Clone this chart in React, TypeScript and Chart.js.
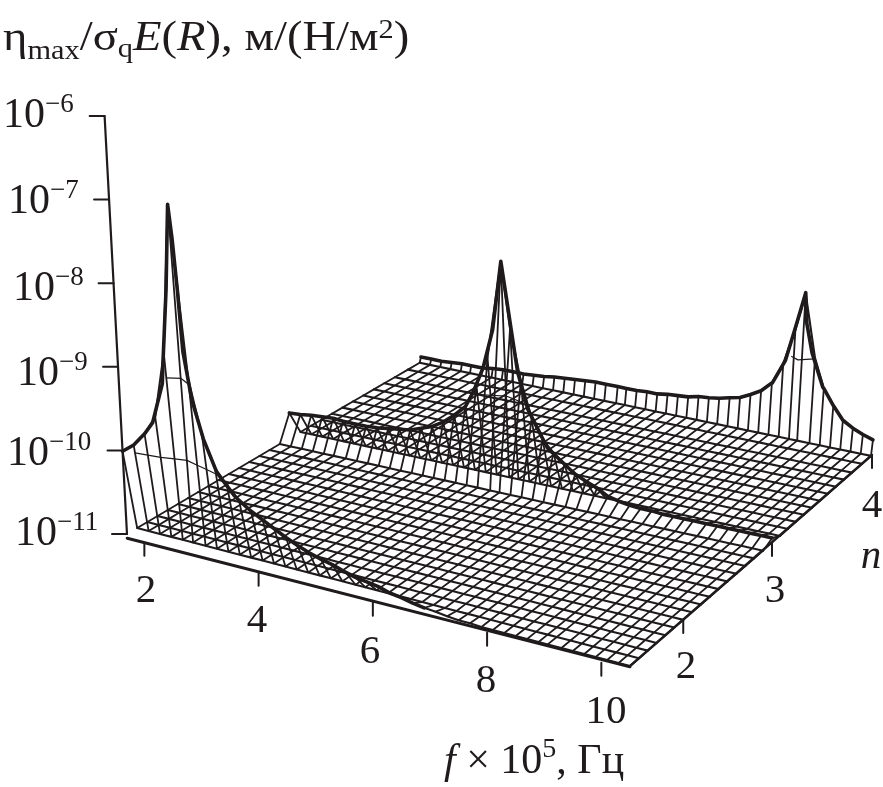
import React, { useEffect, useRef } from "react";
import { Chart, registerables } from "chart.js";

Chart.register(...registerables);

// f × 10^5 Hz grid of the wireframe
const fValues = [
  1.7, 1.9, 2.1, 2.3, 2.5, 2.68, 2.9, 3.1, 3.3, 3.5, 3.7, 3.9, 4.1, 4.3, 4.5, 4.7, 4.9, 5.1, 5.3, 5.53, 5.7, 5.9, 6.1,
  6.3, 6.5, 6.7, 6.9, 7.1, 7.3, 7.5, 7.7, 7.9, 8.1, 8.3, 8.5, 8.7, 8.9, 9.06, 9.3, 9.5, 9.7, 9.9, 10.1, 10.3, 10.5,
];
// n grid
const nValues = [
  1.4, 1.5, 1.6, 1.7, 1.8, 1.9, 2.0, 2.1, 2.2, 2.3, 2.4, 2.5, 2.6, 2.7, 2.8, 2.9, 3.0, 3.08, 3.16, 3.24, 3.32, 3.4,
  3.48, 3.56, 3.64, 3.72, 3.8, 3.9, 3.99, 4.0,
];
const floorLog = -11;
// log10(eta) along each ridge row
const frontRidgeN = 1.4;
const frontRidgeLog = [
  -10.01, -9.9, -9.73, -9.49, -8.69, -6.88, -8.93, -9.58, -9.92, -10.1, -10.24, -10.33, -10.4, -10.47, -10.54, -10.6,
  -10.65, -10.69, -10.72, -10.77, -10.8, -10.82, -10.84, -10.88, -10.9, -10.93, -10.95, -10.96, -10.98, -10.99, -10.99,
  -11, -11, -11, -11, -11, -11, -11, -11, -11, -11, -11, -11, -11, -11,
];
const midRidgeN = 3.0;
const midRidgeLog = [
  -10.7, -10.69, -10.67, -10.66, -10.65, -10.66, -10.66, -10.66, -10.65, -10.63, -10.61, -10.59, -10.54, -10.49, -10.41,
  -10.3, -10.17, -9.87, -9.52, -8.34, -9.12, -9.72, -10.13, -10.36, -10.49, -10.6, -10.69, -10.75, -10.8, -10.87, -10.9,
  -10.92, -10.93, -10.93, -10.94, -10.94, -10.94, -10.94, -10.94, -10.94, -10.94, -10.94, -10.94, -10.94, -10.94,
];
const backRidgeN = 4.0;
const backRidgeLog = [
  -10.94, -10.94, -10.94, -10.93, -10.92, -10.92, -10.92, -10.9, -10.89, -10.89, -10.89, -10.88, -10.87, -10.85, -10.84,
  -10.83, -10.82, -10.81, -10.81, -10.81, -10.81, -10.81, -10.8, -10.8, -10.78, -10.77, -10.76, -10.73, -10.72, -10.7,
  -10.67, -10.64, -10.58, -10.51, -10.39, -10.13, -9.7, -9.25, -9.99, -10.33, -10.51, -10.66, -10.73, -10.78, -10.82,
];
// finer readings of the outlines around each peak
const frontPeakF = [2.25, 2.45, 2.48, 2.59, 2.68, 2.73, 2.78, 2.83, 2.95, 3.12, 3.33, 3.61];
const frontPeakLog = [-9.57, -9.07, -8.8, -7.91, -6.88, -7.29, -7.88, -8.62, -9.18, -9.61, -9.97, -10.19];
const midPeakF = [5.04, 5.22, 5.39, 5.53, 5.72, 5.84, 6.03, 6.39, 6.81];
const midPeakLog = [-9.98, -9.66, -9.18, -8.34, -9.13, -9.62, -10.04, -10.45, -10.65];
const backPeakF = [8.51, 8.74, 8.92, 9.06, 9.11, 9.24, 9.48];
const backPeakLog = [-10.39, -10.09, -9.62, -9.24, -9.6, -9.94, -10.32];

const frontOutlineEnd = 6.9;
const contourLevels = [-10, -9, -8];
const frontEdgeLog = [-11.05, -11.01];

const zTicks = [-6, -7, -8, -9, -10, -11];
const fTicks = [2, 4, 6, 8, 10];
const nTicks = [2, 3, 4];

const INK = "#1f1b1c";
const SERIF = '"Liberation Serif"';

// Projection of (f, n, log eta) into the picture plane
const ctrlN = [1.4, 3, 4];
const ctrlL = [[127, 534], [290, 438], [421, 362]];
const ctrlR = [[630, 666], [772, 543], [872, 455]];
const Z_PX = 83.6;
const fLo = fValues[0];
const fHi = fValues[fValues.length - 1];

function base(f: number, n: number) {
  const u = (f - fLo) / (fHi - fLo);
  const s = n <= ctrlN[1] ? 0 : 1;
  const v = (n - ctrlN[s]) / (ctrlN[s + 1] - ctrlN[s]);
  const at = (p: number[][], k: number) => p[s][k] + (p[s + 1][k] - p[s][k]) * v;
  const x = at(ctrlL, 0) + (at(ctrlR, 0) - at(ctrlL, 0)) * u;
  const y = at(ctrlL, 1) + (at(ctrlR, 1) - at(ctrlL, 1)) * u;
  return { x, y };
}
function project(f: number, n: number, log: number) {
  const b = base(f, n);
  const h = (log - floorLog) * Z_PX;
  return { x: b.x + ((b.x - 470) / 6400) * h, y: b.y - h };
}

function surface(fi: number, n: number) {
  if (Math.abs(n - frontRidgeN) < 1e-6) return frontRidgeLog[fi];
  if (Math.abs(n - midRidgeN) < 1e-6) return midRidgeLog[fi];
  if (Math.abs(n - backRidgeN) < 1e-6) return backRidgeLog[fi];
  return floorLog;
}

function line(data: { x: number; y: number }[], width: number) {
  return {
    data,
    showLine: true,
    pointRadius: 0,
    borderColor: INK,
    borderWidth: width,
    borderCapStyle: "round",
    borderJoinStyle: "round",
    tension: 0,
    fill: false,
  };
}

function contour(ridge: number[], n: number, dn: number, level: number) {
  const pts: { x: number; y: number }[] = [];
  ridge.forEach((log, i) => {
    if (log > level) {
      const t = (log - level) / (log - floorLog);
      pts.push(project(fValues[i], n + dn * t, level));
    }
  });
  return pts;
}

// Merge the grid readings of a ridge with its finer peak readings
function outline(n: number, ridge: number[], peakF: number[], peakLog: number[], endF = Infinity) {
  const lo = peakF[0];
  const hi = peakF[peakF.length - 1];
  const pts: [number, number][] = [];
  fValues.forEach((f, i) => {
    if ((f < lo || f > hi) && f <= endF) pts.push([f, ridge[i]]);
  });
  peakF.forEach((f, i) => pts.push([f, peakLog[i]]));
  pts.sort((a, b) => a[0] - b[0]);
  return pts.map(([f, l]) => project(f, n, l));
}

function buildDatasets() {
  const sets: any[] = [];
  // rows of constant n
  nValues.forEach((n) => {
    sets.push(line(fValues.map((f, i) => project(f, n, surface(i, n))), 2.1));
  });
  // rows of constant f
  fValues.forEach((f, i) => {
    sets.push(line(nValues.map((n) => project(f, n, surface(i, n))), 1.8));
  });
  // contours on the peaks
  contourLevels.forEach((lvl) => {
    const a = contour(frontRidgeLog, frontRidgeN, 0.1, lvl);
    if (a.length) sets.push(line(a, 1.2));
    const b = contour(midRidgeLog, midRidgeN, 0.08, lvl);
    if (b.length) sets.push(line(b, 1.2));
    const c = contour(backRidgeLog, backRidgeN, -0.1, lvl);
    if (c.length) sets.push(line(c, 1.2));
  });
  // ridges
  sets.push(line(outline(frontRidgeN, frontRidgeLog, frontPeakF, frontPeakLog, frontOutlineEnd), 3.6));
  sets.push(line(outline(midRidgeN, midRidgeLog, midPeakF, midPeakLog), 3.6));
  sets.push(line(outline(backRidgeN, backRidgeLog, backPeakF, backPeakLog), 3.6));
  // box
  sets.push(line([project(fLo, frontRidgeN, frontEdgeLog[0]), project(fHi, frontRidgeN, frontEdgeLog[1])], 3));
  sets.push(line([project(fHi, frontRidgeN, floorLog), project(fHi, backRidgeN, floorLog)], 2.4));
  sets.push(line([project(fLo, frontRidgeN, floorLog), project(fLo, frontRidgeN, -6)], 2.2));
  // ticks
  zTicks.forEach((t) => {
    const p = project(fLo, frontRidgeN, t);
    sets.push(line([p, { x: p.x - 15, y: p.y }], 2));
  });
  fTicks.forEach((t) => {
    const p = project(t, frontRidgeN, -11.05);
    sets.push(line([p, { x: p.x, y: p.y + 13 }], 2));
  });
  nTicks.forEach((t) => {
    const p = project(fHi, t, floorLog);
    sets.push(line([p, { x: p.x, y: p.y + 13 }], 2));
  });
  return sets;
}

type Run = { t: string; s: number; i?: boolean; dy?: number };

function drawRuns(ctx: CanvasRenderingContext2D, x: number, y: number, runs: Run[], sx = 1) {
  let cx = x;
  runs.forEach((r) => {
    ctx.font = `${r.i ? "italic " : ""}${r.s}px ${SERIF}`;
    ctx.save();
    ctx.translate(cx, y + (r.dy || 0));
    ctx.scale(sx, 1);
    ctx.fillText(r.t, 0, 0);
    ctx.restore();
    cx += ctx.measureText(r.t).width * sx;
  });
}

const textPlugin = {
  id: "labels",
  afterDraw(chart: any) {
    const ctx: CanvasRenderingContext2D = chart.ctx;
    ctx.save();
    ctx.fillStyle = INK;
    ctx.textAlign = "left";
    ctx.textBaseline = "alphabetic";
    drawRuns(
      ctx,
      3,
      50,
      [
        { t: "η", s: 43 },
        { t: "max", s: 28, dy: 9 },
        { t: "/σ", s: 43 },
        { t: "q", s: 28, dy: 7 },
        { t: "E", s: 43, i: true },
        { t: "(", s: 43 },
        { t: "R", s: 43, i: true },
        { t: "), м/(Н/м", s: 43 },
        { t: "2", s: 28, dy: -12 },
        { t: ")", s: 43 },
      ],
      1.085,
    );
    const zPos: Record<number, number[]> = {
      [-6]: [3, 127],
      [-7]: [8, 213],
      [-8]: [13, 300],
      [-9]: [17, 385],
      [-10]: [7, 465],
      [-11]: [15, 545],
    };
    zTicks.forEach((t) => {
      const [x, y] = zPos[t];
      drawRuns(ctx, x, y, [
        { t: "10", s: 42 },
        { t: "−" + Math.abs(t), s: 27, dy: -15 },
      ]);
    });
    ctx.textAlign = "center";
    ctx.font = `41px ${SERIF}`;
    const fPos: Record<number, number[]> = { 2: [146, 602], 4: [257, 632], 6: [370, 663], 8: [486, 692], 10: [606, 723] };
    fTicks.forEach((t) => ctx.fillText(String(t), fPos[t][0], fPos[t][1]));
    const nPos: Record<number, number[]> = { 2: [686, 678], 3: [775, 602], 4: [872, 517] };
    nTicks.forEach((t) => ctx.fillText(String(t), nPos[t][0], nPos[t][1]));
    ctx.font = `italic 41px ${SERIF}`;
    ctx.fillText("n", 871, 568);
    ctx.textAlign = "left";
    drawRuns(ctx, 444, 773, [
      { t: "f", s: 42, i: true },
      { t: " × 10", s: 42 },
      { t: "5", s: 28, dy: -16 },
      { t: ", Гц", s: 42 },
    ]);
    ctx.restore();
  },
};

export default function App() {
  const ref = useRef<HTMLCanvasElement>(null);
  useEffect(() => {
    document.body.style.margin = "0";
    const chart = new Chart(ref.current as HTMLCanvasElement, {
      type: "scatter",
      data: { datasets: buildDatasets() },
      plugins: [textPlugin],
      options: {
        animation: false,
        responsive: false,
        layout: { padding: 0 },
        plugins: { legend: { display: false }, tooltip: { enabled: false }, title: { display: false } },
        scales: {
          x: { type: "linear", min: 0, max: 883, display: false },
          y: { type: "linear", min: 0, max: 787, reverse: true, display: false },
        },
        clip: false,
      } as any,
    } as any);
    return () => chart.destroy();
  }, []);
  return <canvas ref={ref} width={883} height={787} style={{ display: "block" }} />;
}
